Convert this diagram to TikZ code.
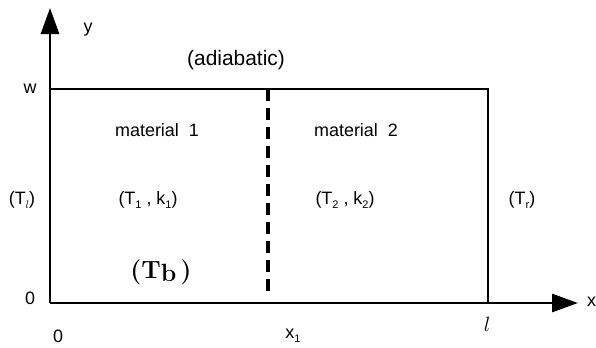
\documentclass[tikz,border=0pt]{standalone}
\usepackage{fontspec}
\setmainfont{Liberation Sans}
\usepackage{tikz}
\usetikzlibrary{arrows.meta, positioning}
\newfontfamily\tbfont{Latin Modern Roman}
\newcommand{\subs}[1]{\raisebox{-4bp}{\fontsize{11}{12}\selectfont #1}}

\begin{document}
\begin{tikzpicture}[
    x=1bp, y=-1bp,
    % 1. ejes y bordes
    axis/.style={line width=2.8bp, -{Triangle[length=26bp, width=18bp]}},
    wall/.style={line width=2.8bp},
    seam/.style={line width=4.2bp, dash pattern=on 12bp off 7bp},
    % 2. etiquetas
    label/.style={font=\fontsize{18}{20}\selectfont, inner sep=1bp},
    bigtag/.style={font=\tbfont\bfseries\fontsize{25}{27}\selectfont, inner sep=1bp}
]
    \useasboundingbox (0,0) rectangle (596,347);

    % --- EJES ---
    \coordinate (o) at (50,303);
    \coordinate (ytip) at (50,8);
    \coordinate (xtip) at (578,303);
    \draw[axis] (o) -- (ytip);
    \draw[axis] (o) -- (xtip);

    % --- CAJA ---
    \coordinate (tl) at (50,89);
    \coordinate (tr) at (488,89);
    \coordinate (br) at (488,303);
    \draw[wall] (tl) -- (tr) -- (br);
    \coordinate (itop) at (268,89);
    \coordinate (ibot) at (268,292);
    \draw[seam] (itop) -- (ibot);

    % --- ETIQUETAS ---
    \node[label] (ylab) at (88,30) {y};
    \node[label, anchor=west] (xlab) at (586,302) {x};
    \node[label, font=\fontsize{21}{23}\selectfont] (adia) at (236,60) {(adiabatic)};
    \node[label] (wlab) at (30,89) {w};
    \node[label] (y0) at (30,298) {0};
    \node[label] (x0) at (58,336) {0};
    \node[label] (x1) at (293,336) {x\subs{1}};
    \node[label, font=\fontsize{21}{23}\selectfont] (llab) at (487,324) {$l$};
    \node[label] (mat1) at (157,130) {material\ \ 1};
    \node[label] (mat2) at (356,130) {material\ \ 2};
    \node[label] (tl1) at (22,200) {(T\subs{$l$})};
    \node[label] (tk1) at (148,200) {(T\subs{1} , k\subs{1})};
    \node[label] (tk2) at (345,200) {(T\subs{2} , k\subs{2})};
    \node[label] (tr1) at (522,200) {(T\subs{r})};
    \node[bigtag] (tb) at (161,272) {(T\raisebox{-3bp}{b}\,)};

\end{tikzpicture}
\end{document}
